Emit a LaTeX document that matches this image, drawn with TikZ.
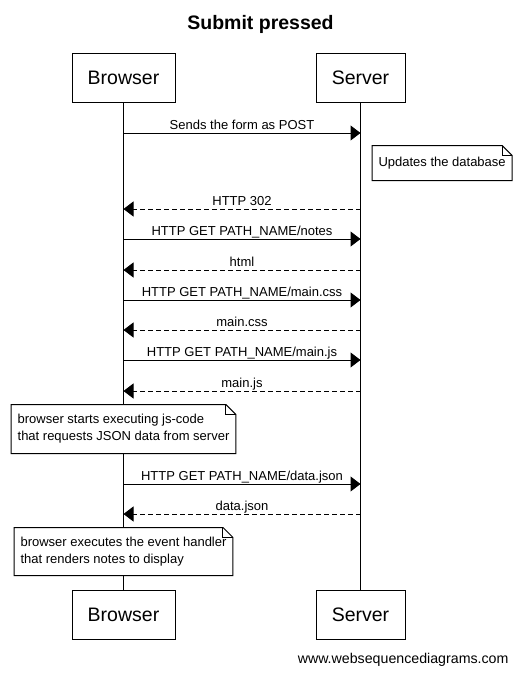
\documentclass[tikz,border=0pt]{standalone}
\usepackage{fontspec}
\setmainfont{Liberation Sans}
\usetikzlibrary{arrows.meta}

\tikzset{
	actor/.style={draw, fill=white, inner sep=0pt, minimum height=49pt, font=\fontsize{19.5}{22}\selectfont},
	msg/.style={-{Triangle[length=10pt, width=15pt]}},
	reply/.style={msg, dash pattern=on 5pt off 3pt},
	lbl/.style={anchor=base, inner sep=0pt, midway, yshift=4pt, font=\fontsize{13}{16}\selectfont},
	note/.style={fill=white, align=left, inner xsep=6pt, font=\fontsize{13}{17}\selectfont}
}

% outline of a note with a folded corner
\newcommand{\dogear}[1]{%
	\draw (#1.south west) -- (#1.north west) -- ([xshift=-10pt]#1.north east) -- ([yshift=-10pt]#1.north east) -- (#1.south east) -- cycle;
	\draw ([xshift=-10pt]#1.north east) |- ([yshift=-10pt]#1.north east);
}

\begin{document}
\begin{tikzpicture}[x=1pt, y=-1pt, line width=1pt]
		\useasboundingbox (0,0) rectangle (519,673);

		\node[anchor=base, font=\bfseries\fontsize{19.5}{22}\selectfont] (title) at (260.5,29) {Submit pressed};

		\node[actor, minimum width=103pt] (BT) at (123.5,77.5) {Browser};
		\node[actor, minimum width=89pt] (ST) at (360.5,77.5) {Server};
		\node[actor, minimum width=103pt] (BB) at (123.5,614.5) {Browser};
		\node[actor, minimum width=89pt] (SB) at (360.5,614.5) {Server};

		\draw (BT) -- (BB);
		\draw (ST) -- (SB);

		\coordinate (b1) at (123.5,133);  \coordinate (s1) at (360.5,133);
		\coordinate (b2) at (123.5,209);  \coordinate (s2) at (360.5,209);
		\coordinate (b3) at (123.5,239);  \coordinate (s3) at (360.5,239);
		\coordinate (b4) at (123.5,270);  \coordinate (s4) at (360.5,270);
		\coordinate (b5) at (123.5,300);  \coordinate (s5) at (360.5,300);
		\coordinate (b6) at (123.5,330);  \coordinate (s6) at (360.5,330);
		\coordinate (b7) at (123.5,360);  \coordinate (s7) at (360.5,360);
		\coordinate (b8) at (123.5,391);  \coordinate (s8) at (360.5,391);
		\coordinate (b9) at (123.5,484);  \coordinate (s9) at (360.5,484);
		\coordinate (b10) at (123.5,514); \coordinate (s10) at (360.5,514);

		\draw[msg] (b1) -- node[lbl] {Sends the form as POST} (s1);
		\draw[reply] (s2) -- node[lbl] {HTTP 302} (b2);
		\draw[msg] (b3) -- node[lbl] {HTTP GET PATH\_NAME/notes} (s3);
		\draw[reply] (s4) -- node[lbl] {html} (b4);
		\draw[msg] (b5) -- node[lbl] {HTTP GET PATH\_NAME/main.css} (s5);
		\draw[reply] (s6) -- node[lbl] {main.css} (b6);
		\draw[msg] (b7) -- node[lbl] {HTTP GET PATH\_NAME/main.js} (s7);
		\draw[reply] (s8) -- node[lbl] {main.js} (b8);
		\draw[msg] (b9) -- node[lbl] {HTTP GET PATH\_NAME/data.json} (s9);
		\draw[reply] (s10) -- node[lbl] {data.json} (b10);

		\node[note, anchor=west, minimum height=34pt] (dbnote) at (372,163) {Updates the database};
		\node[note, minimum height=48pt] (jsnote) at (123.5,429) {browser starts executing js-code\\that requests JSON data from server};
		\node[note, minimum height=47pt] (rendernote) at (123.5,551.5) {browser executes the event handler\\that renders notes to display};
		\dogear{dbnote}
		\dogear{jsnote}
		\dogear{rendernote}

		\node[anchor=base east, inner sep=0pt, font=\fontsize{14.2}{17}\selectfont] (site) at (509,663) {www.websequencediagrams.com};

	\end{tikzpicture}
\end{document}
